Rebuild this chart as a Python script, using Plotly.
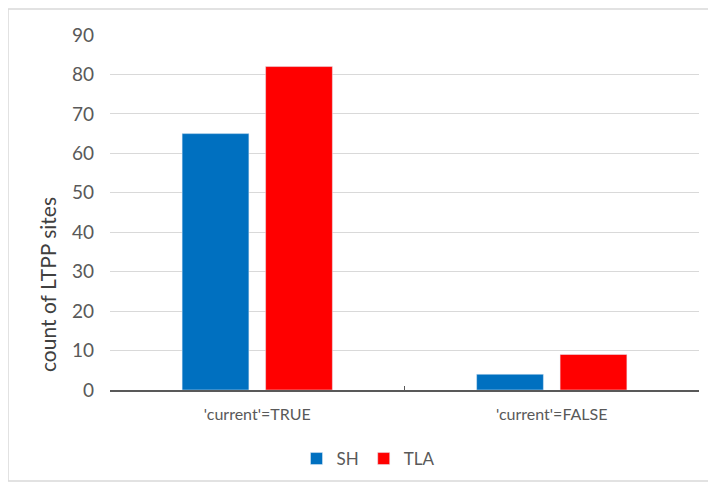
import plotly.graph_objects as go

categories = ["'current'=TRUE", "'current'=FALSE"]
sh_values = [65, 4]
tla_values = [82, 9]
series_names = ["SH", "TLA"]
y_ticks = [0, 10, 20, 30, 40, 50, 60, 70, 80, 90]
y_title = "count of LTPP sites"

FONT = "Lato, 'Open Sans', sans-serif"

fig = go.Figure()
fig.add_trace(go.Bar(x=categories, y=sh_values, name=series_names[0], marker_color="#0070C0"))
fig.add_trace(go.Bar(x=categories, y=tla_values, name=series_names[1], marker_color="#FF0000"))

# page has an 8px body offset; work in screenshot coordinates
OFF = 8
W, H = 716 - OFF, 484 - OFF
PL, PR, PT, PB = 110, 699, 35, 390  # plot area in screenshot px
L, R, T, B = PL - OFF, W - (PR - OFF), PT - OFF, H - (PB - OFF)
pw, ph = PR - PL, PB - PT

def px(x):
    return (x - PL) / pw

def py(y):
    return (PB - y) / ph

fig.update_layout(
    width=W, height=H,
    margin=dict(l=L, r=R, t=T, b=B, autoexpand=False),
    paper_bgcolor="white", plot_bgcolor="white",
    barmode="group", bargap=0.433, bargroupgap=0.2,
    font=dict(family=FONT, color="#595959"),
    showlegend=True,
    legend=dict(orientation="h", x=px(368), xanchor="center", y=py(459), yanchor="middle",
                font=dict(size=17, color="#595959"), itemwidth=30, tracegroupgap=0,
                bgcolor="rgba(0,0,0,0)"),
    xaxis=dict(showgrid=False, showline=True, linecolor="#595959", linewidth=1.5,
               ticks="inside", tickson="boundaries", ticklen=4, tickcolor="#595959",
               ticklabelstandoff=9, automargin=False,
               tickfont=dict(size=16, color="#595959"), fixedrange=True),
    yaxis=dict(range=[0, 90], tickvals=y_ticks, showgrid=True, gridcolor="#D9D9D9", gridwidth=1,
               zeroline=False, showline=False, tickfont=dict(size=19, color="#595959"),
               ticklabelstandoff=15, automargin=False),
    annotations=[dict(text=y_title, xref="paper", yref="paper", x=px(47), y=py(285),
                      xanchor="center", yanchor="middle", textangle=-90, showarrow=False,
                      font=dict(size=21, color="#404040"))],
    shapes=[dict(type="rect", xref="paper", yref="paper",
                 x0=px(8), x1=px(740), y0=py(481), y1=py(9),
                 line=dict(color="#D9D9D9", width=1.5), fillcolor="rgba(0,0,0,0)", layer="below")],
)

fig.write_html("out.html")
